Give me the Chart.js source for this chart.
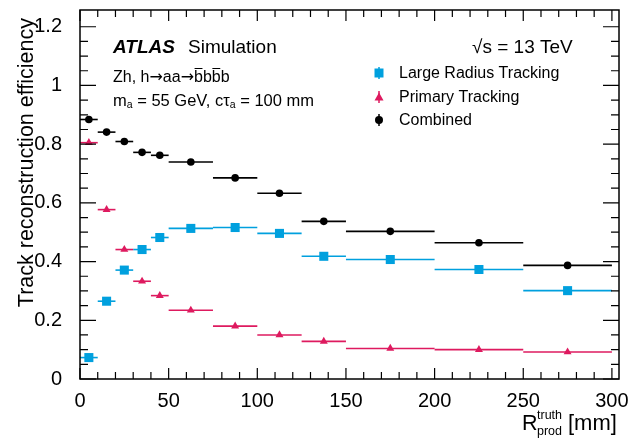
<!DOCTYPE html>
<html><head><meta charset="utf-8">
<script src="https://cdn.jsdelivr.net/npm/chart.js@4/dist/chart.umd.min.js"></script>
<style>html,body{margin:0;padding:0;background:#fff}#wrap{width:631px;height:440px}</style>
</head><body><div id="wrap"><canvas id="c" width="631" height="440"></canvas></div>
<script>
const binLow = [0,10,20,30,40,50,75,100,125,150,200,250];
const binHigh = [10,20,30,40,50,75,100,125,150,200,250,300];
const binCenter = [5,15,25,35,45,62.5,87.5,112.5,137.5,175,225,275];
const largeRadius = [0.073,0.265,0.371,0.441,0.482,0.513,0.516,0.496,0.418,0.407,0.373,0.301];
const primary = [0.805,0.577,0.441,0.333,0.284,0.234,0.180,0.150,0.128,0.104,0.100,0.092];
const combined = [0.884,0.841,0.809,0.772,0.762,0.739,0.685,0.633,0.537,0.503,0.464,0.387];
const xTicks = [0,50,100,150,200,250,300];
const yTicks = [0,0.2,0.4,0.6,0.8,1,1.2];
const yTickLabels = ['0','0.2','0.4','0.6','0.8','1','1.2'];
const seriesNames = ['Large Radius Tracking','Primary Tracking','Combined'];

const FONT = '"Liberation Sans", Arial, Helvetica, sans-serif';
const cBlue = '#00a0de', cPink = '#de1a5f', cBlack = '#000000';

function pts(vals){ return vals.map((v,i)=>({x:binCenter[i], y:v})); }

const errBars = {
  id:'errBars',
  beforeDatasetsDraw(chart){
    const ctx = chart.ctx, xs = chart.scales.x, ys = chart.scales.y;
    ctx.save();
    chart.data.datasets.forEach((ds,di)=>{
      ctx.strokeStyle = ds.borderColor;
      ctx.lineWidth = 1.6;
      ds.data.forEach((p,i)=>{
        const y = ys.getPixelForValue(p.y);
        ctx.beginPath();
        ctx.moveTo(xs.getPixelForValue(binLow[i]), y);
        ctx.lineTo(xs.getPixelForValue(binHigh[i]), y);
        ctx.stroke();
      });
    });
    ctx.restore();
  }
};

function drawMarker(ctx, style, x, y, color){
  ctx.fillStyle = color;
  ctx.beginPath();
  if(style==='rect'){ ctx.rect(x-4.5,y-4.5,9,9); }
  else if(style==='triangle'){ ctx.moveTo(x,y-4.5); ctx.lineTo(x+4.5,y+3.5); ctx.lineTo(x-4.5,y+3.5); ctx.closePath(); }
  else { ctx.arc(x,y,4,0,Math.PI*2); }
  ctx.fill();
}

const decor = {
  id:'decor',
  afterDraw(chart){
    const ctx = chart.ctx, a = chart.chartArea, xs = chart.scales.x, ys = chart.scales.y;
    ctx.save();
    ctx.strokeStyle = '#000'; ctx.lineWidth = 1.5;
    ctx.strokeRect(a.left, a.top, a.right-a.left, a.bottom-a.top);
    ctx.lineWidth = 1.2;
    for(let k=0;k<yTicks.length;k++){
      const py = ys.getPixelForValue(yTicks[k]);
      ctx.beginPath(); ctx.moveTo(a.left,py); ctx.lineTo(a.left+16,py);
      ctx.moveTo(a.right,py); ctx.lineTo(a.right-16,py); ctx.stroke();
    }
    for(let v=0.05; v<1.25; v+=0.05){
      if(Math.abs(v/0.2-Math.round(v/0.2))<1e-6) continue;
      const py = ys.getPixelForValue(v);
      ctx.beginPath(); ctx.moveTo(a.left,py); ctx.lineTo(a.left+8,py);
      ctx.moveTo(a.right,py); ctx.lineTo(a.right-8,py); ctx.stroke();
    }
    for(let v=0; v<=300; v+=10){
      const px = xs.getPixelForValue(v);
      const L = (v%50===0)?11:7;
      ctx.beginPath(); ctx.moveTo(px,a.bottom); ctx.lineTo(px,a.bottom-L);
      ctx.moveTo(px,a.top); ctx.lineTo(px,a.top+L); ctx.stroke();
    }
    ctx.fillStyle = '#000';
    ctx.save();
    ctx.translate(33, 18);
    ctx.rotate(-Math.PI/2);
    ctx.font = '21.5px '+FONT; ctx.textAlign='right'; ctx.textBaseline='alphabetic';
    ctx.fillText('Track reconstruction efficiency', 0, 0);
    ctx.restore();
    ctx.textAlign='left'; ctx.textBaseline='alphabetic';
    ctx.font = '21.5px '+FONT; ctx.fillText('R', 522, 430);
    ctx.font = '12.5px '+FONT; ctx.fillText('truth', 537, 419); ctx.fillText('prod', 537, 435);
    ctx.font = '22px '+FONT; ctx.fillText('[mm]', 568, 430);
    ctx.font = 'italic bold 19px '+FONT; ctx.fillText('ATLAS', 113, 53);
    ctx.font = '19px '+FONT; ctx.fillText('Simulation', 188, 53);
    ctx.fillText('\u221As = 13 TeV', 472, 53);
    let x = 113; const yb = 82;
    const segs = ['Zh, h','\u2192','aa','\u2192'];
    segs.forEach(t=>{
      ctx.font = (t==='\u2192' ? '16px "DejaVu Sans", ' : '16px ')+FONT;
      ctx.fillText(t, x, yb); x += ctx.measureText(t).width;
    });
    ctx.font = '16px '+FONT;
    const bw = ctx.measureText('b').width;
    for(let k=0;k<4;k++){
      ctx.fillText('b', x, yb);
      if(k%2===0){ ctx.lineWidth=1; ctx.beginPath(); ctx.moveTo(x+0.5, yb-13.5); ctx.lineTo(x+bw-0.5, yb-13.5); ctx.stroke(); }
      x += bw;
    }
    const parts = [['m',0],['a',1],[' = 55 GeV, c\u03C4',0],['a',1],[' = 100 mm',0]];
    x = 113; const ym = 105.5;
    parts.forEach(([t,sub])=>{
      ctx.font = (sub?'10.5px ':'16.5px ')+FONT;
      ctx.fillText(t, x, sub? ym+2 : ym);
      x += ctx.measureText(t).width;
    });
    const styles = ['rect','triangle','circle'], cols=[cBlue,cPink,cBlack], ly=[73,97,120];
    ctx.font = '16px '+FONT; ctx.textBaseline='middle';
    for(let k=0;k<3;k++){
      ctx.strokeStyle = cols[k]; ctx.lineWidth=1.5;
      ctx.beginPath(); ctx.moveTo(379, ly[k]-6); ctx.lineTo(379, ly[k]+6); ctx.stroke();
      drawMarker(ctx, styles[k], 379, ly[k], cols[k]);
      ctx.fillStyle='#000';
      ctx.fillText(seriesNames[k], 399, ly[k]+1);
    }
    ctx.restore();
  }
};

new Chart(document.getElementById('c'), {
  type:'scatter',
  data:{ datasets:[
    {label:seriesNames[0], data:pts(largeRadius), pointStyle:'rect', pointRadius:6.4, backgroundColor:cBlue, borderColor:cBlue, borderWidth:0},
    {label:seriesNames[1], data:pts(primary), pointStyle:'triangle', pointRadius:4.6, backgroundColor:cPink, borderColor:cPink, borderWidth:0},
    {label:seriesNames[2], data:pts(combined), pointStyle:'circle', pointRadius:3.8, backgroundColor:cBlack, borderColor:cBlack, borderWidth:0}
  ]},
  options:{
    responsive:false, animation:false, devicePixelRatio:1,
    layout:{padding:{top:10,right:12,left:0,bottom:0}},
    plugins:{legend:{display:false}, tooltip:{enabled:false}},
    scales:{
      x:{type:'linear', min:0, max:304, grid:{display:false}, border:{display:false},
        afterBuildTicks:s=>{s.ticks = xTicks.map(v=>({value:v}));},
        afterFit:s=>{s.height=61; s.paddingLeft=0; s.paddingRight=0;},
        ticks:{color:'#000', font:{family:FONT,size:20}, padding:2, maxRotation:0, autoSkip:false, callback:v=>String(v)}},
      y:{type:'linear', min:0, max:1.257, grid:{display:false}, border:{display:false},
        afterBuildTicks:s=>{s.ticks = yTicks.map(v=>({value:v}));},
        afterFit:s=>{s.width=80; s.paddingTop=0; s.paddingBottom=0;},
        ticks:{color:'#000', font:{family:FONT,size:20}, padding:10, autoSkip:false, callback:(v)=>yTickLabels[yTicks.indexOf(v)]}}
    }
  },
  plugins:[errBars, decor]
});
</script></body></html>
